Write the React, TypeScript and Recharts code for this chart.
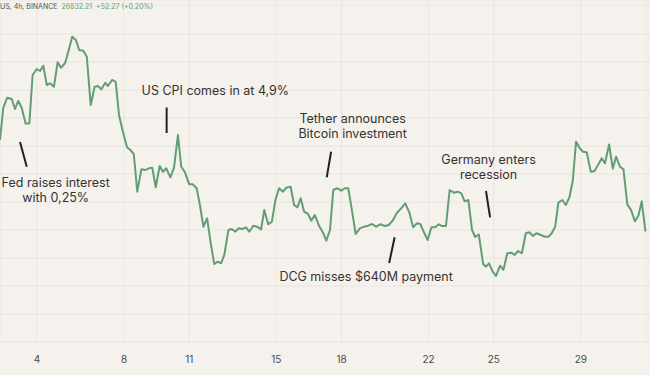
import { LineChart, Line, XAxis, YAxis, CartesianGrid, ReferenceLine, ReferenceDot } from "recharts";

// 4h closes, x = day of May (fractional), y = price in USD
const days = [
  2.3, 2.45, 2.63, 2.84, 2.99, 3.14, 3.3, 3.48, 3.65, 3.8,
  3.99, 4.14, 4.29, 4.45, 4.6, 4.78, 4.95, 5.1, 5.29, 5.44,
  5.62, 5.79, 5.94, 6.13, 6.29, 6.47, 6.65, 6.8, 6.96, 7.14,
  7.26, 7.45, 7.62, 7.77, 7.95, 8.14, 8.29, 8.45, 8.61, 8.8,
  8.98, 9.14, 9.3, 9.46, 9.64, 9.79, 9.94, 10.13, 10.3, 10.48,
  10.63, 10.79, 11.0, 11.16, 11.34, 11.49, 11.65, 11.82, 12.0, 12.15,
  12.31, 12.46, 12.61, 12.8, 12.95, 13.12, 13.27, 13.43, 13.61, 13.76,
  13.94, 14.11, 14.3, 14.45, 14.63, 14.8, 14.96, 15.13, 15.31, 15.46,
  15.66, 15.82, 15.97, 16.12, 16.28, 16.46, 16.61, 16.77, 16.97, 17.15,
  17.3, 17.47, 17.62, 17.81, 17.99, 18.15, 18.31, 18.5, 18.65, 18.84,
  19.03, 19.22, 19.4, 19.59, 19.78, 19.99, 20.17, 20.35, 20.55, 20.74,
  20.93, 21.12, 21.29, 21.47, 21.62, 21.81, 21.96, 22.13, 22.31, 22.47,
  22.62, 22.8, 22.97, 23.16, 23.34, 23.51, 23.66, 23.83, 24.0, 24.14,
  24.31, 24.51, 24.64, 24.78, 24.95, 25.1, 25.29, 25.44, 25.62, 25.81,
  25.96, 26.11, 26.29, 26.47, 26.63, 26.8, 26.96, 27.16, 27.36, 27.51,
  27.66, 27.82, 27.97, 28.15, 28.31, 28.47, 28.63, 28.78, 28.95, 29.1,
  29.27, 29.46, 29.62, 29.79, 29.96, 30.11, 30.3, 30.47, 30.62, 30.8,
  30.96, 31.14, 31.3, 31.49, 31.65, 31.8, 31.97,
];

const prices = [
  28607, 29179, 29362, 29339, 29161, 29304, 29179, 28898, 28905, 29768,
  29875, 29839, 29934, 29589, 29620, 29559, 29995, 29898, 29977, 30184,
  30452, 30393, 30214, 30202, 30095, 29232, 29559, 29571, 29512, 29630,
  29571, 29679, 29643, 29054, 28755, 28477, 28429, 28357, 27684, 28084,
  28071, 28102, 28113, 27763, 28143, 28041, 28102, 27941, 28113, 28696,
  28130, 28041, 27816, 27816, 27745, 27446, 27059, 27209, 26732, 26393,
  26434, 26405, 26554, 27000, 27018, 26970, 27030, 27018, 27048, 26970,
  27077, 27059, 27012, 27357, 27102, 27148, 27536, 27745, 27684, 27755,
  27773, 27446, 27405, 27566, 27327, 27286, 27166, 27268, 27071, 26952,
  26809, 27000, 27714, 27745, 27702, 27745, 27745, 27298, 26929, 27030,
  27059, 27077, 27107, 27059, 27102, 27071, 27089, 27166, 27309, 27387,
  27477, 27309, 27048, 27120, 27107, 26941, 26821, 27048, 27048, 27102,
  27071, 27071, 27714, 27666, 27684, 27655, 27512, 27536, 27000, 26875,
  26920, 26393, 26345, 26405, 26255, 26179, 26363, 26286, 26584, 26595,
  26554, 26625, 26584, 26941, 26959, 26893, 26941, 26911, 26880, 26880,
  26941, 27059, 27488, 27536, 27446, 27577, 27875, 28577, 28459, 28398,
  28387, 28041, 28050, 28161, 28280, 28191, 28527, 28095, 28309, 28130,
  28084, 27452, 27363, 27155, 27259, 27512, 26977,
];

const dayTicks = [4, 8, 11, 15, 18, 22, 25, 29, 32];
const priceTicks = [25000, 25500, 26000, 26500, 27000, 27500, 28000, 28500, 29000, 29500, 30000, 30500, 31000];

// annotations: text lines, label anchor (day, price), pointer segment
const eventText = [
  ["Fed raises interest", "with 0,25%"],
  ["US CPI comes in at 4,9%"],
  ["Tether announces", "Bitcoin investment"],
  ["DCG misses $640M payment"],
  ["Germany enters", "recession"],
];
const eventAt = [
  [4.86, 27839],
  [12.2, 29488],
  [18.51, 28982],
  [19.13, 26166],
  [24.76, 28250],
];
const eventMark = [
  [3.22, 28571, 3.53, 28130],
  [9.96, 29188, 9.96, 28732],
  [17.52, 28398, 17.32, 27941],
  [20.44, 26870, 20.19, 26411],
  [24.64, 27696, 24.83, 27227],
];

const data = days.map((d, i) => ({ day: d, price: prices[i] }));

const FONT = "Inter, 'Noto Sans', sans-serif";

function EventLabel(props: any) {
  const { cx, cy, lines } = props;
  return (
    <text x={cx} y={cy} textAnchor="middle" fill="#333" fontSize={12.5} fontFamily={FONT}>
      {lines.map((t: string, i: number) => (
        <tspan key={i} x={cx} dy={i === 0 ? "0.35em" : 15}>
          {t}
        </tspan>
      ))}
    </text>
  );
}

export default function App() {
  return (
    <div style={{ position: "absolute", left: 0, top: 0, width: 650, height: 375, background: "#f5f2ee", overflow: "hidden" }}>
      <LineChart width={650} height={375} data={data} margin={{ top: 0, right: 0, bottom: 0, left: 0 }}>
        <CartesianGrid stroke="#e9e5df" strokeWidth={1} />
        <XAxis
          dataKey="day"
          type="number"
          domain={[2.3, 32.18]}
          ticks={dayTicks}
          allowDataOverflow
          axisLine={false}
          tickLine={false}
          height={33}
          tickMargin={8}
          tickFormatter={(v: number) => (v > 31 ? "" : String(v))}
          tick={{ fill: "#4a4a4a", fontSize: 10, fontFamily: FONT }}
        />
        <YAxis hide type="number" domain={[25000, 31107]} ticks={priceTicks} allowDataOverflow />
        <Line
          dataKey="price"
          type="linear"
          stroke="#629d73"
          strokeWidth={2}
          dot={false}
          activeDot={false}
          strokeLinejoin="round"
          isAnimationActive={false}
        />
        {eventMark.map((m, i) => (
          <ReferenceLine
            key={"m" + i}
            segment={[{ x: m[0], y: m[1] }, { x: m[2], y: m[3] }]}
            stroke="#222"
            strokeWidth={2}
          />
        ))}
        {eventAt.map((a, i) => (
          <ReferenceDot
            key={"t" + i}
            x={a[0]}
            y={a[1]}
            r={0}
            shape={(p: any) => <EventLabel {...p} lines={eventText[i]} />}
          />
        ))}
      </LineChart>
      <div style={{ position: "absolute", left: 0, top: 2, fontFamily: FONT, fontSize: 7, whiteSpace: "pre", color: "#555" }}>
        US, 4h, BINANCE{"  "}
        <span style={{ color: "#629d73" }}>26832.21{"  "}+52.27 (+0.20%)</span>
      </div>
    </div>
  );
}
